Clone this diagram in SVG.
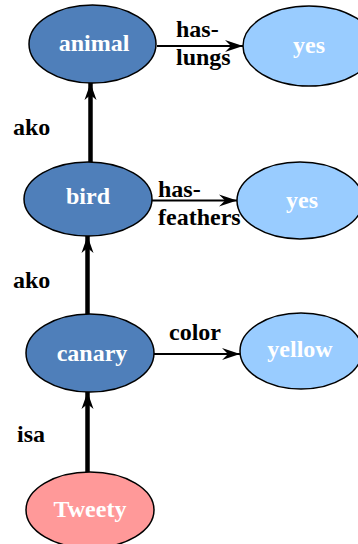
<svg xmlns="http://www.w3.org/2000/svg" width="358" height="544" viewBox="0 0 358 544">
<style>
.n ellipse{stroke:#000;stroke-width:1.5}
.dark{fill:#4F7FBA}
.light{fill:#99CCFF}
.pink{fill:#FF9999}
.nt{font-family:"Liberation Serif",serif;font-weight:bold;font-size:24px;fill:#fff;text-anchor:middle}
.lt{font-family:"Liberation Serif",serif;font-weight:bold;font-size:24px;fill:#000}
.thin{stroke:#000;stroke-width:1.8;fill:none}
.thick{stroke:#000;stroke-width:4.5;fill:none}
</style>
<defs>
<marker id="ah" markerUnits="userSpaceOnUse" markerWidth="20" markerHeight="14" refX="18" refY="7" orient="auto" overflow="visible">
<path d="M18,7 L0,1 L6,7 L0,13 Z" fill="#000"/>
</marker>
<marker id="av" markerUnits="userSpaceOnUse" markerWidth="18" markerHeight="14" refX="17" refY="7" orient="auto" overflow="visible">
<path d="M17,7 L0,1 L5,7 L0,13 Z" fill="#000"/>
</marker>
</defs>
<g id="connectors">
<line class="thin" x1="157" y1="46" x2="243" y2="46" marker-end="url(#ah)"/>
<line class="thin" x1="152" y1="200.5" x2="237" y2="200.5" marker-end="url(#ah)"/>
<line class="thin" x1="154" y1="354" x2="240" y2="354" marker-end="url(#ah)"/>
<line class="thick" x1="90.5" y1="162" x2="90.5" y2="83" marker-end="url(#av)"/>
<line class="thick" x1="87.5" y1="315" x2="87.5" y2="236" marker-end="url(#av)"/>
<line class="thick" x1="87.5" y1="472" x2="87.5" y2="392" marker-end="url(#av)"/>
<text class="lt" x="176" y="37">has-</text>
<text class="lt" x="176" y="65">lungs</text>
<text class="lt" x="158" y="197">has-</text>
<text class="lt" x="158" y="225">feathers</text>
<text class="lt" x="169" y="340">color</text>
<text class="lt" x="13" y="135">ako</text>
<text class="lt" x="13" y="288">ako</text>
<text class="lt" x="17" y="442">isa</text>
</g>
<g id="animal" class="n"><ellipse class="dark" cx="92.5" cy="44" rx="63.5" ry="39"/><text class="nt" x="94" y="51">animal</text></g>
<g id="yes1" class="n"><ellipse class="light" cx="309" cy="46" rx="66" ry="40"/><text class="nt" x="309" y="53">yes</text></g>
<g id="bird" class="n"><ellipse class="dark" cx="88" cy="199" rx="64" ry="37"/><text class="nt" x="88" y="204">bird</text></g>
<g id="yes2" class="n"><ellipse class="light" cx="300" cy="200.5" rx="63" ry="38.5"/><text class="nt" x="302" y="208">yes</text></g>
<g id="canary" class="n"><ellipse class="dark" cx="90" cy="353" rx="64" ry="39"/><text class="nt" x="92" y="361">canary</text></g>
<g id="yellow" class="n"><ellipse class="light" cx="301" cy="351" rx="61" ry="38"/><text class="nt" x="300" y="357">yellow</text></g>
<g id="Tweety" class="n"><ellipse class="pink" cx="90" cy="510" rx="64" ry="38"/><text class="nt" x="90" y="517">Tweety</text></g>
</svg>
